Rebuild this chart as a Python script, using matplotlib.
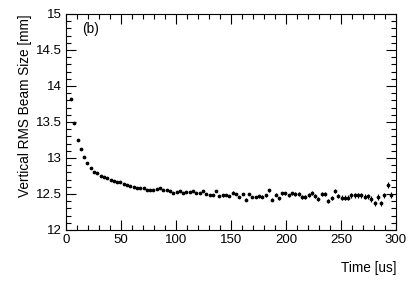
import matplotlib
matplotlib.use("Agg")
import matplotlib.pyplot as plt
from matplotlib.ticker import MultipleLocator, FuncFormatter

plt.rcParams['font.family'] = ['Liberation Sans', 'DejaVu Sans']

time_us = [4.5 + 3 * i for i in range(98)]
rms_size = [
    13.82, 13.49, 13.25, 13.12, 13.02, 12.93, 12.86, 12.81, 12.79, 12.75,
    12.74, 12.72, 12.70, 12.68, 12.67, 12.66, 12.64, 12.63, 12.61, 12.60,
    12.59, 12.59, 12.58, 12.56, 12.56, 12.56, 12.57, 12.58, 12.55, 12.55,
    12.54, 12.52, 12.53, 12.54, 12.52, 12.53, 12.53, 12.54, 12.51, 12.51,
    12.54, 12.50, 12.49, 12.49, 12.54, 12.47, 12.48, 12.49, 12.47, 12.52,
    12.50, 12.46, 12.50, 12.42, 12.50, 12.46, 12.46, 12.47, 12.46, 12.48,
    12.55, 12.42, 12.49, 12.44, 12.51, 12.51, 12.48, 12.51, 12.50, 12.50,
    12.46, 12.46, 12.49, 12.52, 12.47, 12.43, 12.50, 12.50, 12.40, 12.44,
    12.54, 12.47, 12.45, 12.45, 12.45, 12.48, 12.48, 12.48, 12.48, 12.46,
    12.47, 12.43, 12.37, 12.46, 12.37, 12.48, 12.62, 12.49,
]
rms_err = [
    0.006, 0.006, 0.006, 0.006, 0.006, 0.006, 0.006, 0.006, 0.006, 0.007,
    0.007, 0.007, 0.007, 0.007, 0.007, 0.008, 0.008, 0.008, 0.008, 0.008,
    0.009, 0.009, 0.009, 0.009, 0.009, 0.010, 0.010, 0.010, 0.010, 0.010,
    0.011, 0.011, 0.011, 0.011, 0.012, 0.012, 0.012, 0.012, 0.013, 0.013,
    0.013, 0.014, 0.014, 0.014, 0.015, 0.015, 0.015, 0.016, 0.016, 0.016,
    0.017, 0.017, 0.018, 0.018, 0.018, 0.019, 0.019, 0.020, 0.020, 0.020,
    0.021, 0.021, 0.022, 0.022, 0.023, 0.023, 0.024, 0.024, 0.025, 0.025,
    0.026, 0.026, 0.027, 0.027, 0.028, 0.028, 0.029, 0.029, 0.030, 0.030,
    0.031, 0.031, 0.032, 0.032, 0.033, 0.033, 0.034, 0.034, 0.035, 0.035,
    0.036, 0.036, 0.037, 0.038, 0.038, 0.039, 0.040, 0.040,
]

fig = plt.figure(figsize=(4.15, 2.83), dpi=100)
ax = fig.add_axes([66 / 415, 53 / 283, 330 / 415, 216 / 283])

ax.errorbar(time_us, rms_size, yerr=rms_err, fmt='o', color='black',
            markersize=1.7, elinewidth=0.8, capsize=0)

ax.set_xlim(0, 300)
ax.set_ylim(12, 15)
ax.xaxis.set_major_locator(MultipleLocator(50))
ax.xaxis.set_minor_locator(MultipleLocator(10))
ax.yaxis.set_major_locator(MultipleLocator(0.5))
ax.yaxis.set_minor_locator(MultipleLocator(0.1))
ax.yaxis.set_major_formatter(FuncFormatter(lambda v, p: f"{v:g}"))

ax.tick_params(which='both', direction='in', top=True, right=True,
               labelsize=9.5, width=0.8)
ax.tick_params(which='major', length=7, pad=3)
ax.tick_params(which='minor', length=3.5)
for s in ax.spines.values():
    s.set_linewidth(0.8)

ax.set_xlabel('Time [us]', fontsize=9.8, loc='right', labelpad=11)
ax.set_ylabel('Vertical RMS Beam Size [mm]', fontsize=9.8, loc='top', labelpad=3)
ax.text(15, 14.74, '(b)', fontsize=9.8)

fig.savefig('out.png', dpi=100)
